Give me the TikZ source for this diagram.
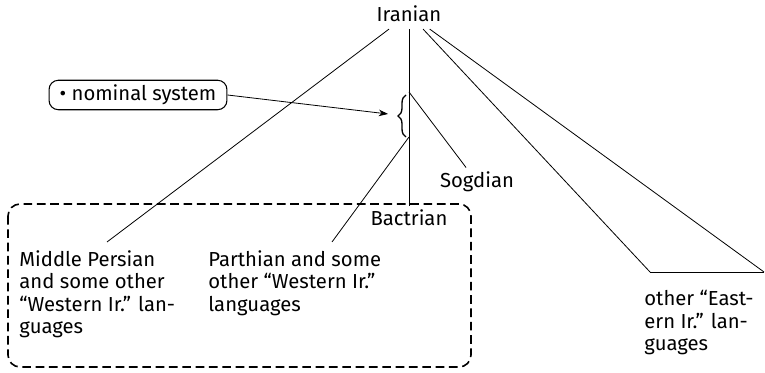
\documentclass[tikz,border=0pt]{standalone}
\usepackage{fontspec}
\setmainfont{Fira Sans}
\usetikzlibrary{arrows.meta,decorations.pathreplacing}

\tikzset{every picture/.style={line width=0.6pt}}
\tikzset{
  lang/.style={inner sep=0pt,align=left,anchor=north west},
  leaf/.style={inner sep=3pt},
  notebox/.style={draw,rounded corners=7pt,line width=0.8pt,inner xsep=8pt,inner ysep=3.5pt},
  groupbox/.style={draw,rounded corners=9pt,line width=1.2pt,dash pattern={on 6.5pt off 3.5pt}}
}

\begin{document}
\begin{tikzpicture}[x=0.75pt,y=0.75pt,yscale=-1,xscale=1,font=\fontsize{15.2}{16.9}\selectfont]
\useasboundingbox (0,0) rectangle (765,373);

% Root
\node (iranian) at (409,14) [inner sep=5pt] {Iranian};
% Leaves
\node (bact) at (409,218) [leaf] {Bactrian};
\node (sogd) at (477,182) [leaf] {Sogdian};
\node (mp) at (19,250) [lang] {Middle Persian\\and some other\\“Western Ir.” lan-\\guages};
\node (parth) at (208,250) [lang] {Parthian and some\\other “Western Ir.”\\languages};
\node (east) at (644,290) [lang] {other “East-\\ern Ir.” lan-\\guages};
% Note
\node (nom) at (138,95) [notebox] {\textbullet{} nominal system};

% branch points
\coordinate (b1) at (409,92);
\coordinate (b2) at (409,137);
\coordinate (mpTop) at (107,242);
\coordinate (paTop) at (332,242);
\coordinate (e1) at (650,272);
\coordinate (e2) at (764,272);
\coordinate (btip) at (388,114);

% Edges
\draw (iranian) -- (mpTop);
\draw (iranian) -- (bact);
\draw (b1) -- (sogd);
\draw (b2) -- (paTop);
\draw (iranian) -- (e1);
\draw (iranian) -- (e2);
\draw (e1) -- (e2);

% Brace and arrow
\draw [line width=1pt,decorate,decoration={brace,amplitude=6pt}] (406,137) -- (406,95);
\draw [-{Stealth[length=7pt,width=5pt]}] (nom.east) -- (btip);

% Dashed group
\draw [groupbox] (8,204) rectangle (471,367);

\end{tikzpicture}
\end{document}
